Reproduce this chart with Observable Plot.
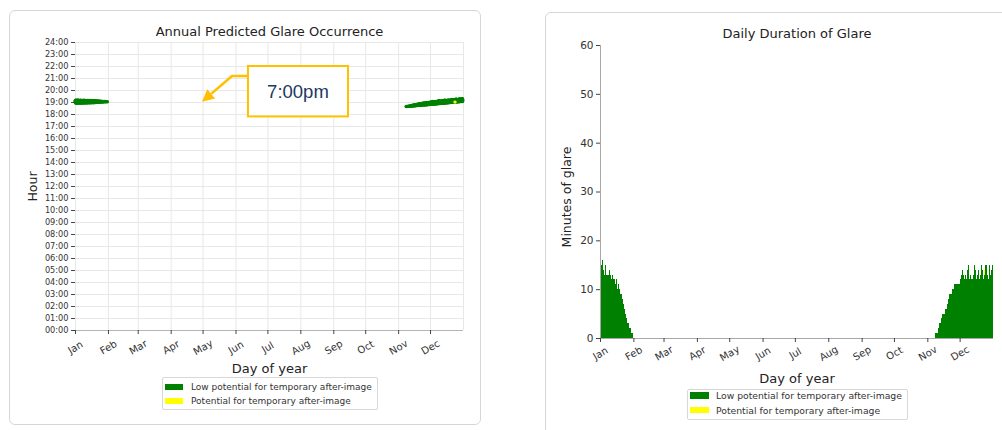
<!DOCTYPE html>
<html><head><meta charset="utf-8">
<script src="https://cdn.jsdelivr.net/npm/d3@7"></script>
<script src="https://cdn.jsdelivr.net/npm/@observablehq/plot@0.6"></script>
<style>
html,body{margin:0;padding:0;background:#fff;}
#page{position:relative;width:1002px;height:430px;overflow:hidden;font-family:"DejaVu Sans",sans-serif;}
.card{position:absolute;border:1px solid #d6d6d6;border-radius:6px;background:#fff;box-sizing:border-box;}
.chart{position:absolute;top:0;}
.legend{position:absolute;border:1px solid #d8d8d8;border-radius:2px;background:#fff;box-sizing:border-box;color:#333;}
.legend .row{position:absolute;height:14px;display:flex;align-items:center;white-space:nowrap;}
.legend .sw{display:inline-block;flex:none;}
</style></head>
<body><div id="page">
<div class="card" style="left:9px;top:10px;width:472px;height:415px"></div>
<div class="card" style="left:545px;top:12px;width:520px;height:480px"></div>
<div id="left" class="chart" style="left:0px"></div>
<div id="right" class="chart" style="left:545px"></div>
<div id="legL" class="legend" style="left:162px;top:377px;width:216px;height:33px;font-size:9px"></div>
<div id="legR" class="legend" style="left:687px;top:389px;width:221px;height:31px;font-size:9.25px"></div>
</div>
<script>
// ---- data ----
const monthLabels = ["Jan","Feb","Mar","Apr","May","Jun","Jul","Aug","Sep","Oct","Nov","Dec"];
const monthStartDay = [1,32,60,91,121,152,182,213,244,274,305,335];
const hourTicks = [0,1,2,3,4,5,6,7,8,9,10,11,12,13,14,15,16,17,18,19,20,21,22,23,24];
const minuteTicks = [0,10,20,30,40,50,60];

// January glare: first day of year 1, one value per day
const janFirstDay = 1;
const janMinutes = [14,15,16,14,13,15,13,13,14,13,12,13,12,12,11,12,10,11,10,9,8,7,6,5,4,3,3,2,2,1,1];
// start of glare, minutes after 18:00
const janStart   = [58,57,57,58,58,57,58,58,58,58,59,58,59,59,59,59,60,59,60,60,61,61,62,62,63,63,63,64,64,64,64];

// November/December glare: first day of year 312
const novFirstDay = 312;
const novMinutes = [1,1,1,2, 3,3, 4,5,5, 6,6,7, 8,9,9, 9,10,10, 11,11,11,11, 11,12,13,
                    14,13,12,13,12, 14,15,12,13,12, 13,15,14,12,13, 14,12,13,15,14,
                    12,14,15,13,12, 15,13,14,15];
const novStart = [40,40,41,41,42,42,43,43,44,44, 45,45,46,46,47,47,48,48,48,49,
                  49,50,50,51,51,52,52,53,53,54, 54,55,55,56,56,57,57,58,58,59,
                  59,60,60,61,61,62,62,63,63,64, 64,65,65,65];

// potential for temporary after-image (yellow)
const afterImage = [{day: 358, start: 62, minutes: 1}];

const legendItems = [
  {label: "Low potential for temporary after-image", color: "#008000"},
  {label: "Potential for temporary after-image", color: "#ffff00"}
];

const annotation = {label: "7:00pm", boxDay: [163.7, 257.8], boxHour: [22.0, 17.8], elbow: [148.7, 21.17], tip: [120.5, 19.03]};

// ---- derived tables ----
const green = "#008000", yellow = "#ffff00", gold = "#FFC000";
const days = [];
janMinutes.forEach((m, i) => days.push({day: janFirstDay + i, minutes: m, start: janStart[i]}));
novMinutes.forEach((m, i) => days.push({day: novFirstDay + i, minutes: m, start: novStart[i]}));
days.forEach(d => {
  const a = afterImage.find(e => e.day === d.day);
  d.yellow = a ? a.minutes : 0;
  d.green = d.minutes - d.yellow;
});
const greenDots = days.flatMap(d => d3.range(d.minutes).map(k => ({day: d.day, hour: 18 + (d.start + k) / 60})));
const yellowDots = afterImage.flatMap(a => d3.range(a.minutes).map(k => ({day: a.day, hour: 18 + (a.start + k) / 60})));

const fmtHour = h => String(h).padStart(2, "0") + ":00";
const svgStyle = {background: "transparent", fontFamily: "DejaVu Sans", color: "#333", maxWidth: "none", overflow: "visible"};

function annotationMark(index, scales) {
  const X = scales.x, Y = scales.y, a = annotation;
  const g = d3.create("svg:g");
  const bx1 = X(a.boxDay[0]), bx2 = X(a.boxDay[1]), by1 = Y(a.boxHour[0]), by2 = Y(a.boxHour[1]);
  const ex = X(a.elbow[0]), ey = Y(a.elbow[1]);
  const tx = X(a.tip[0]), ty = Y(a.tip[1]);
  const ang = Math.atan2(ty - ey, tx - ex), hl = 12, hw = 6;
  const bx = tx - hl * Math.cos(ang), by = ty - hl * Math.sin(ang);
  g.append("path").attr("d", `M${bx1},${ey}L${ex},${ey}L${bx},${by}`)
    .attr("fill", "none").attr("stroke", gold).attr("stroke-width", 2.5).attr("stroke-linejoin", "round");
  g.append("path").attr("d", `M${tx},${ty}L${bx + hw * Math.sin(ang)},${by - hw * Math.cos(ang)}L${bx - hw * Math.sin(ang)},${by + hw * Math.cos(ang)}Z`)
    .attr("fill", gold);
  g.append("rect").attr("x", bx1).attr("y", by1).attr("width", bx2 - bx1).attr("height", by2 - by1)
    .attr("fill", "#fff").attr("stroke", gold).attr("stroke-width", 2);
  g.append("text").attr("x", (bx1 + bx2) / 2).attr("y", (by1 + by2) / 2).attr("dy", "0.35em")
    .attr("text-anchor", "middle").attr("font-family", "Liberation Sans, Arial, sans-serif")
    .attr("font-size", 18.5).attr("fill", "#203864").text(a.label);
  return g.node();
}

const mid = {lineAnchor: "middle", textAnchor: "middle"};

const leftPlot = Plot.plot({
  width: 490, height: 430,
  marginLeft: 75, marginRight: 27, marginTop: 42, marginBottom: 100,
  style: svgStyle,
  x: {type: "linear", domain: [1, 366], axis: null},
  y: {type: "linear", domain: [0, 24], axis: null},
  marks: [
    Plot.gridY(hourTicks, {stroke: "#e8e8e8", strokeOpacity: 1}),
    Plot.gridX([...monthStartDay, 366], {stroke: "#e8e8e8", strokeOpacity: 1}),
    Plot.axisY(hourTicks, {tickFormat: fmtHour, tickSize: 4, tickPadding: 3, fontSize: 8.2, label: null, stroke: "#444", fill: "#333"}),
    Plot.ruleY([0], {stroke: "#b5b5b5"}),
    Plot.axisX(monthStartDay, {tickFormat: () => "", tickSize: 4, label: null, stroke: "#444"}),
    Plot.text(monthLabels, {x: (d, i) => monthStartDay[i], frameAnchor: "bottom", dy: 17, rotate: -30, fontSize: 10, fill: "#333", ...mid}),
    Plot.dot(greenDots, {x: "day", y: "hour", r: 1.7, fill: green}),
    Plot.dot(yellowDots, {x: "day", y: "hour", r: 1.7, fill: yellow}),
    annotationMark,
    Plot.text(["Annual Predicted Glare Occurrence"], {frameAnchor: "top", dy: -11, fontSize: 13, fill: "#222", ...mid}),
    Plot.text(["Day of year"], {frameAnchor: "bottom", dy: 38, fontSize: 13, fill: "#222", ...mid}),
    Plot.text(["Hour"], {frameAnchor: "left", dx: -43, rotate: -90, fontSize: 12.5, fill: "#222", ...mid})
  ]
});
document.getElementById("left").appendChild(leftPlot);

const rightPlot = Plot.plot({
  width: 457, height: 430,
  marginLeft: 55, marginRight: 9, marginTop: 45, marginBottom: 92,
  style: svgStyle,
  x: {type: "linear", domain: [1, 366], axis: null},
  y: {type: "linear", domain: [0, 60], axis: null},
  marks: [
    Plot.rect(days, {x1: "day", x2: d => d.day + 1, y1: () => 0, y2: "green", fill: green, shapeRendering: "crispEdges"}),
    Plot.rect(days.filter(d => d.yellow > 0), {x1: "day", x2: d => d.day + 1, y1: "green", y2: "minutes", fill: yellow, shapeRendering: "crispEdges"}),
    Plot.ruleX([1], {stroke: "#a8a8a8"}),
    Plot.ruleY([0], {stroke: "#a8a8a8"}),
    Plot.axisY(minuteTicks, {tickSize: 4, tickPadding: 3, fontSize: 10.5, label: null, stroke: "#444", fill: "#333"}),
    Plot.axisX(monthStartDay, {tickFormat: () => "", tickSize: 4, label: null, stroke: "#444"}),
    Plot.text(monthLabels, {x: (d, i) => monthStartDay[i], frameAnchor: "bottom", dy: 15, rotate: -30, fontSize: 10, fill: "#333", ...mid}),
    Plot.text(["Daily Duration of Glare"], {frameAnchor: "top", dy: -12, fontSize: 13, fill: "#222", ...mid}),
    Plot.text(["Day of year"], {frameAnchor: "bottom", dy: 40, fontSize: 13, fill: "#222", ...mid}),
    Plot.text(["Minutes of glare"], {frameAnchor: "left", dx: -34, dy: 5, rotate: -90, fontSize: 12.5, fill: "#222", ...mid})
  ]
});
document.getElementById("right").appendChild(rightPlot);

function buildLegend(el, rows, sw) {
  rows.forEach((r, i) => {
    const row = document.createElement("div");
    row.className = "row";
    row.style.left = sw.left + "px";
    row.style.top = sw.tops[i] + "px";
    const s = document.createElement("span");
    s.className = "sw";
    s.style.width = sw.w + "px"; s.style.height = sw.h + "px"; s.style.background = r.color;
    s.style.marginRight = sw.gap + "px";
    row.appendChild(s);
    row.appendChild(document.createTextNode(r.label));
    el.appendChild(row);
  });
}
buildLegend(document.getElementById("legL"), legendItems, {left: 2, tops: [2.3, 16.3], w: 18, h: 6, gap: 8});
buildLegend(document.getElementById("legR"), legendItems, {left: 2, tops: [-1.3, 13], w: 19, h: 6.6, gap: 7});
</script>
</body></html>
